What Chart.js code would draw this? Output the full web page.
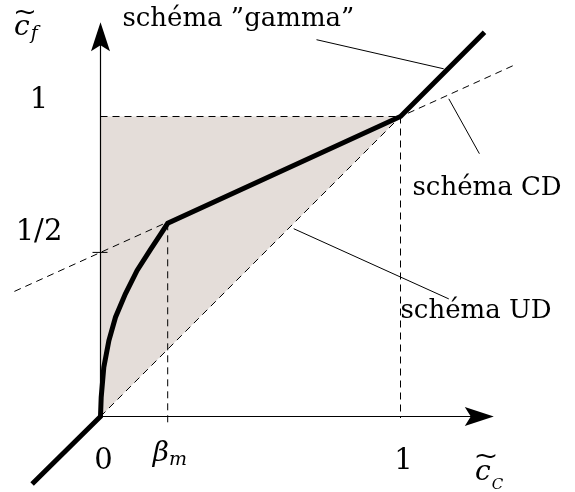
<!DOCTYPE html>
<html>
<head>
<meta charset="utf-8">
<script src="https://cdn.jsdelivr.net/npm/chart.js@4.4.1/dist/chart.umd.min.js"></script>
<style>
  html, body { margin: 0; padding: 0; background: #fff; }
  #wrap { width: 575px; height: 492px; }
</style>
</head>
<body>
<div id="wrap"><canvas id="diagram" width="575" height="492"></canvas></div>
<script>
// "gamma" scheme: UD below 0, concave rise up to beta_m, CD up to 1, UD again above 1
const gammaX = [-0.228, 0, 0.0023, 0.011, 0.028, 0.05, 0.083, 0.122, 0.167, 0.2, 0.224, 1, 1.28];
const gammaY = [-0.225, 0, 0.064, 0.164, 0.253, 0.331, 0.409, 0.487, 0.557, 0.607, 0.644, 1, 1.281];

// CD scheme (dashed straight line through (1,1)) and UD scheme (diagonal)
const cdX = [-0.287, 1.383];
const cdY = [0.417, 1.173];
const udX = [0, 1];
const udY = [0, 1];

const betaM = 0.224;
const halfLevel = 0.547;

// TVD region, shaded
const regionX = [0, 0, 1, 0];
const regionY = [0, 1, 1, 0];

// guide lines: y = 1, x = 1, x = beta_m
const guideTopX = [0, 1];
const guideTopY = [1, 1];
const guideOneX = [1, 1];
const guideOneY = [1, -0.005];
const guideBetaX = [betaM, betaM];
const guideBetaY = [0.644, -0.03];

// leader lines from the labels to the curves
const leaderGammaX = [0.72, 1.144];
const leaderGammaY = [1.256, 1.159];
const leaderCdX = [1.161, 1.263];
const leaderCdY = [1.059, 0.876];
const leaderUdX = [0.644, 1.161];
const leaderUdY = [0.626, 0.392];

const xTicks = [0, betaM, 1];
const xTickLabels = [['0', ''], ['\u03b2', 'm'], ['1', '']];
const yTicks = [1, halfLevel];
const yTickLabels = ['1', '1/2'];

const serif = '"DejaVu Serif", serif';

function pts(xs, ys) {
  return xs.map((x, i) => ({ x: x, y: ys[i] }));
}

function lineSet(xs, ys, opts) {
  return Object.assign({
    data: pts(xs, ys),
    borderColor: '#000',
    borderWidth: 1,
    pointRadius: 0,
    tension: 0,
    fill: false
  }, opts || {});
}

const dashed = { borderDash: [7, 5] };

function text(ctx, str, x, y, size, italic, align) {
  ctx.font = (italic ? 'italic ' : '') + size + 'px ' + serif;
  ctx.textAlign = align || 'left';
  ctx.textBaseline = 'alphabetic';
  ctx.fillText(str, x, y);
  return ctx.measureText(str).width;
}

// wide tilde over a symbol
function tilde(ctx, cx, cy, w) {
  ctx.save();
  ctx.font = '24px ' + serif;
  ctx.textAlign = 'center';
  ctx.textBaseline = 'middle';
  ctx.translate(cx, cy);
  ctx.scale(w / ctx.measureText('~').width, 1);
  ctx.fillText('~', 0, 0);
  ctx.restore();
}

function arrowHead(ctx, tipX, tipY, dir) {
  // dir: 'right' or 'up'
  const len = 29, half = 9.5, notch = 23;
  ctx.beginPath();
  if (dir === 'right') {
    ctx.moveTo(tipX, tipY);
    ctx.lineTo(tipX - len, tipY - half);
    ctx.lineTo(tipX - notch, tipY);
    ctx.lineTo(tipX - len, tipY + half);
  } else {
    ctx.moveTo(tipX, tipY);
    ctx.lineTo(tipX - half, tipY + len);
    ctx.lineTo(tipX, tipY + notch);
    ctx.lineTo(tipX + half, tipY + len);
  }
  ctx.closePath();
  ctx.fill();
}

const diagramPlugin = {
  id: 'diagram',
  afterDatasetsDraw(chart) {
    const ctx = chart.ctx;
    const xs = chart.scales.x, ys = chart.scales.y;
    const px = v => xs.getPixelForValue(v);
    const py = v => ys.getPixelForValue(v);
    const ox = px(0), oy = py(0);

    ctx.save();
    ctx.fillStyle = '#000';
    ctx.strokeStyle = '#000';
    ctx.lineWidth = 1.2;

    // axes with arrows
    const xEnd = px(1.311), yEnd = py(1.314);
    ctx.beginPath();
    ctx.moveTo(ox, oy);
    ctx.lineTo(xEnd - 20, oy);
    ctx.moveTo(ox, oy);
    ctx.lineTo(ox, yEnd + 20);
    ctx.stroke();
    arrowHead(ctx, xEnd, oy, 'right');
    arrowHead(ctx, ox, yEnd, 'up');

    // small tick at 1/2
    ctx.lineWidth = 1;
    ctx.beginPath();
    ctx.moveTo(ox - 8, py(halfLevel));
    ctx.lineTo(ox + 7, py(halfLevel));
    ctx.stroke();

    // x tick labels
    xTicks.forEach((v, i) => {
      const [main, sub] = xTickLabels[i];
      if (sub) {
        const w = text(ctx, main, px(v) - 15, oy + 44, 28, true);
        text(ctx, sub, px(v) - 15 + w, oy + 48, 19, true);
      } else {
        text(ctx, main, px(v) + 3, oy + 52, 29, false, 'center');
      }
    });

    // y tick labels
    yTicks.forEach((v, i) => {
      text(ctx, yTickLabels[i], 39, py(v) - 9 - (i ? 3 : 0), 29, false, 'center');
    });

    // axis titles
    let w = text(ctx, 'c', 14, 35, 28, true);
    text(ctx, 'f', 14 + w + 1, 39, 19, true);
    tilde(ctx, 25, 14, 24);

    w = text(ctx, 'c', 475, 480, 28, true);
    text(ctx, 'C', 475 + w + 1, 489, 15, true);
    tilde(ctx, 486, 458, 25);

    // scheme labels
    text(ctx, 'sch\u00e9ma \u201dgamma\u201d', px(0.073), py(1.303), 26, false);
    text(ctx, 'sch\u00e9ma CD', px(1.04), py(0.737), 26, false);
    text(ctx, 'sch\u00e9ma UD', px(1.0), py(0.33), 26, false);

    ctx.restore();
  }
};

new Chart(document.getElementById('diagram'), {
  type: 'line',
  data: {
    datasets: [
      lineSet(gammaX, gammaY, { borderWidth: 5, borderJoinStyle: 'miter' }),
      lineSet(leaderGammaX, leaderGammaY),
      lineSet(leaderCdX, leaderCdY),
      lineSet(leaderUdX, leaderUdY),
      lineSet(cdX, cdY, dashed),
      lineSet(udX, udY, dashed),
      lineSet(guideTopX, guideTopY, dashed),
      lineSet(guideOneX, guideOneY, dashed),
      lineSet(guideBetaX, guideBetaY, dashed),
      lineSet(regionX, regionY, {
        borderColor: 'rgba(0,0,0,0)',
        backgroundColor: '#e4ddd9',
        fill: 'shape'
      })
    ]
  },
  options: {
    responsive: false,
    animation: false,
    layout: { padding: 0 },
    plugins: { legend: { display: false }, tooltip: { enabled: false } },
    scales: {
      // bounds chosen so that the axes fall on pixel centres
      x: { type: 'linear', min: -100.5 / 300, max: 474.5 / 300, display: false },
      y: { type: 'linear', min: -75.5 / 300, max: 416.5 / 300, display: false }
    }
  },
  plugins: [diagramPlugin]
});
</script>
</body>
</html>
